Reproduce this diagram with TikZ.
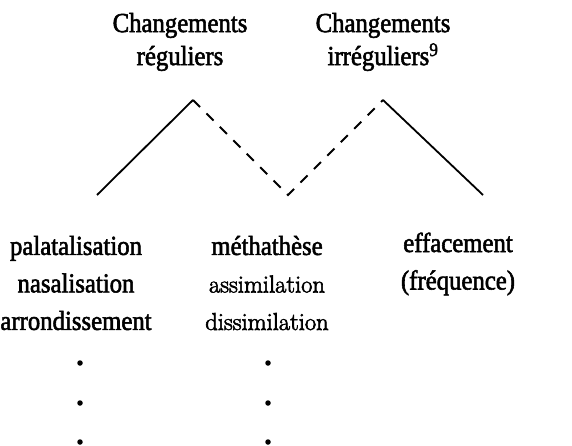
\documentclass[tikz,border=0pt]{standalone}
\usepackage{fontspec}
\setmainfont{Liberation Serif}[FakeStretch=0.9,FakeBold=2]
\newfontfamily\cmfont{Latin Modern Roman}[FakeBold=2.5]
\begin{document}
\begin{tikzpicture}[x=1pt,y=-1pt,
  lbl/.style={inner sep=0pt,align=center,font=\fontsize{27.5}{33}\selectfont},
  col/.style={inner sep=0pt,align=center,font=\fontsize{27.5}{37.5}\selectfont},
  edge/.style={line width=1.8pt},
  dashedge/.style={line width=1.8pt,dash pattern=on 10pt off 9pt},
  dotmark/.style={circle,fill=black,inner sep=0pt,minimum size=5.5pt}]
\useasboundingbox (0,0) rectangle (572,446);
\node[lbl] (reg) at (180,42) {Changements\\réguliers};
\node[lbl] (irr) at (383,42) {Changements\\irréguliers\textsuperscript{9}};
\coordinate (a) at (97,195);
\coordinate (b) at (193,100);
\coordinate (c) at (288,195);
\coordinate (d) at (383,100);
\coordinate (e) at (483,195);
\draw[edge] (a) -- (b);
\draw[dashedge] (b) -- (c) -- (d);
\draw[edge] (d) -- (e);
\node[col] (left) at (76,283) {palatalisation\\nasalisation\\arrondissement};
\node[col] (mid) at (267,283) {méthathèse\\{\cmfont\fontsize{24.5}{37.5}\selectfont assimilation}\\{\cmfont\fontsize{24.5}{37.5}\selectfont dissimilation}};
\node[col] (right) at (458,264) {effacement\\(fréquence)};
\node[dotmark] (l1) at (80,363) {};
\node[dotmark] (l2) at (80,403) {};
\node[dotmark] (l3) at (80,442) {};
\node[dotmark] (m1) at (268,363) {};
\node[dotmark] (m2) at (268,403) {};
\node[dotmark] (m3) at (268,442) {};
\end{tikzpicture}
\end{document}
